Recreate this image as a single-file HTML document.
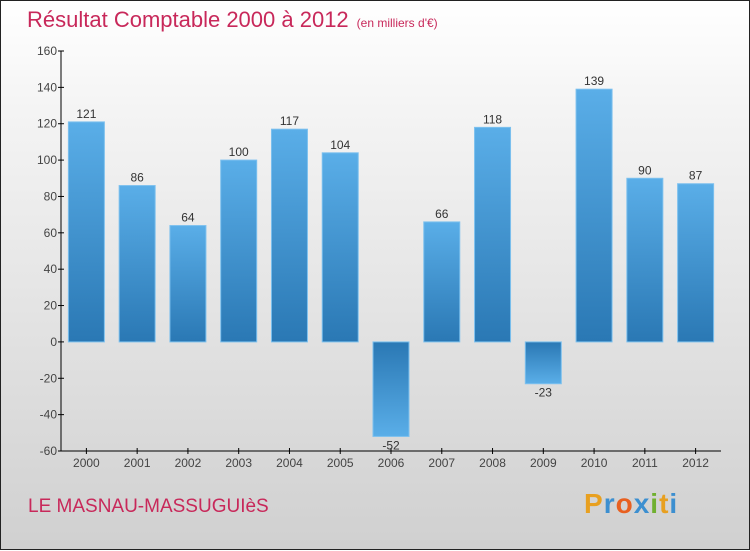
<!DOCTYPE html>
<html><head><meta charset="utf-8"><style>
html,body{margin:0;padding:0}
body{width:750px;height:550px;overflow:hidden;font-family:"Liberation Sans",sans-serif}
#wrap{position:relative;width:748px;height:548px;border:1px solid #222;background:linear-gradient(#ffffff,#f4f4f4 20%,#d0d0d0)}
#title{position:absolute;left:26px;top:6px;font-size:22px;color:#c8285a}
#title small{font-size:12px;margin-left:8px}
#city{position:absolute;left:27px;top:495px;font-size:19px;color:#c8285a}
#logo{position:absolute;left:583px;top:487px;font-size:28px;font-weight:bold;letter-spacing:1px}
</style></head><body>
<div id="wrap">
<div id="title">Résultat Comptable 2000 à 2012<small>(en milliers d'€)</small></div>
<svg id="chart" width="750" height="550" style="position:absolute;left:0;top:0">
<defs>
<linearGradient id="gp" x1="0" y1="0" x2="0" y2="1"><stop offset="0" stop-color="#5aaee8"/><stop offset="1" stop-color="#2a78b4"/></linearGradient>
<linearGradient id="gn" x1="0" y1="0" x2="0" y2="1"><stop offset="0" stop-color="#2a78b4"/><stop offset="1" stop-color="#5aaee8"/></linearGradient>
</defs>
</svg>
<div id="city">LE MASNAU-MASSUGUIèS</div>
<div id="logo"><span style="color:#e8a020">P</span><span style="color:#3c8fd0">r</span><span style="color:#e86020">o</span><span style="color:#3c8fd0">x</span><span style="color:#70b030">i</span><span style="color:#e8a020">t</span><span style="color:#3c8fd0">i</span></div>
</div>
<script>
const years=["2000","2001","2002","2003","2004","2005","2006","2007","2008","2009","2010","2011","2012"];
const values=[121,86,64,100,117,104,-52,66,118,-23,139,90,87];
const yTicks=[-60,-40,-20,0,20,40,60,80,100,120,140,160];
const NS="http://www.w3.org/2000/svg";
const svg=document.getElementById('chart');
const x0=60,x1=720,yTop=50,yBot=450,vMin=-60,vMax=160;
const slot=(x1-x0)/years.length;
function y(v){return yBot-(v-vMin)/(vMax-vMin)*(yBot-yTop);}
function xc(i){return x0+slot*(i+0.5);}
function mk(t,a){const e=document.createElementNS(NS,t);for(const k in a)e.setAttribute(k,a[k]);svg.appendChild(e);return e;}
const ya=mk('line',{x1:x0,y1:yTop,x2:x0,y2:yBot,stroke:'#000'});


const xa=mk('line',{x1:x0,y1:yBot,x2:x1,y2:yBot,stroke:'#000'});


yTicks.forEach(v=>{
 mk('line',{x1:x0-3,y1:y(v),x2:x0+3,y2:y(v),stroke:'#000'});
 const t=mk('text',{x:x0-4,y:y(v)+4,'text-anchor':'end','font-size':12,fill:'#444'});
 t.textContent=v;
 
 
});
years.forEach((yr,i)=>{
 const c=xc(i),v=values[i],w=36;
 mk('line',{x1:c,y1:yBot-3,x2:c,y2:yBot+3,stroke:'#000'});
 const t=mk('text',{x:c,y:yBot+16,'text-anchor':'middle','font-size':12,fill:'#444'});
 t.textContent=yr;
 
 
 const top=Math.min(y(v),y(0)),h=Math.abs(y(v)-y(0));
 const r=mk('rect',{x:c-w/2,y:top,width:w,height:h,fill:v>=0?'url(#gp)':'url(#gn)',stroke:'#7cc0ee','stroke-width':1});
 
 
 const l=mk('text',{x:c,y:v>=0?y(v)-4:y(v)+13,'text-anchor':'middle','font-size':12,fill:'#333'});
 l.textContent=v;
 
 
});
</script>
</body></html>
